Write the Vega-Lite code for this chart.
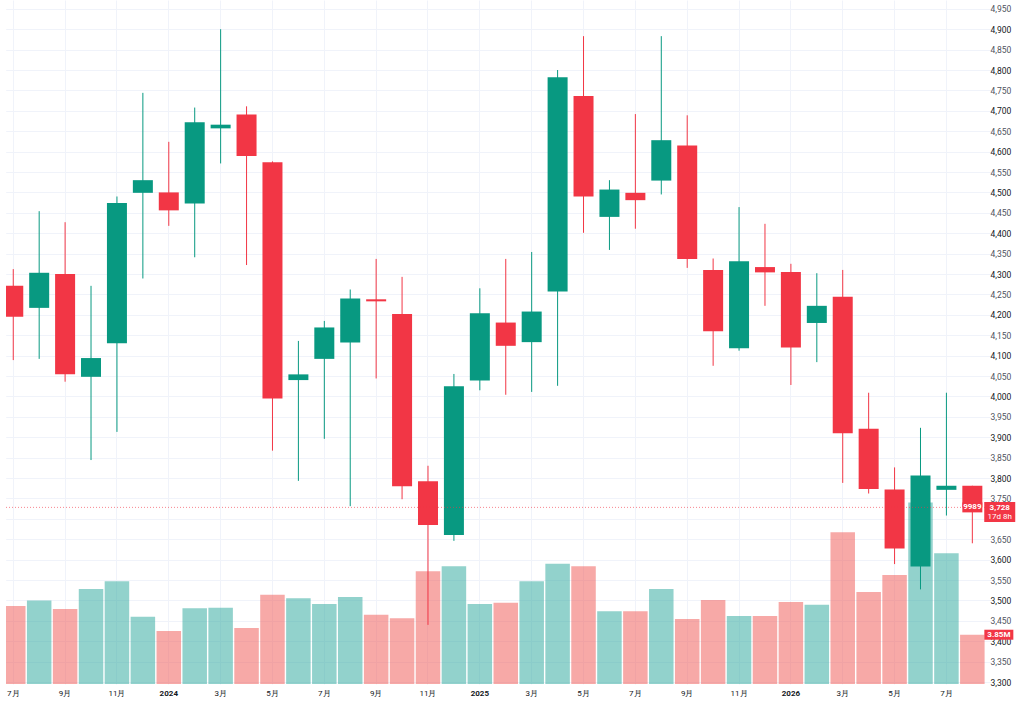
{
  "$schema": "https://vega.github.io/schema/vega-lite/v6.json",
  "width": 979,
  "height": 684,
  "autosize": {"type": "none"},
  "padding": {"left": 6, "top": 0, "right": 39, "bottom": 21},
  "background": "white",
  "config": {"view": {"stroke": null}, "font": "Roboto"},
  "data": {
    "values": [
      {"m": "2023-07", "open": 4271, "high": 4312, "low": 4089, "close": 4195, "volume": 6.09},
      {"m": "2023-08", "open": 4217, "high": 4454, "low": 4092, "close": 4303, "volume": 6.53},
      {"m": "2023-09", "open": 4300, "high": 4427, "low": 4036, "close": 4054, "volume": 5.85},
      {"m": "2023-10", "open": 4048, "high": 4271, "low": 3844, "close": 4094, "volume": 7.42},
      {"m": "2023-11", "open": 4130, "high": 4490, "low": 3913, "close": 4474, "volume": 8.02},
      {"m": "2023-12", "open": 4499, "high": 4744, "low": 4289, "close": 4530, "volume": 5.25},
      {"m": "2024-01", "open": 4500, "high": 4624, "low": 4418, "close": 4456, "volume": 4.14},
      {"m": "2024-02", "open": 4473, "high": 4708, "low": 4341, "close": 4672, "volume": 5.91},
      {"m": "2024-03", "open": 4657, "high": 4900, "low": 4571, "close": 4666, "volume": 5.96},
      {"m": "2024-04", "open": 4691, "high": 4711, "low": 4322, "close": 4589, "volume": 4.37},
      {"m": "2024-05", "open": 4574, "high": 4576, "low": 3867, "close": 3995, "volume": 6.97},
      {"m": "2024-06", "open": 4040, "high": 4136, "low": 3793, "close": 4054, "volume": 6.69},
      {"m": "2024-07", "open": 4092, "high": 4185, "low": 3896, "close": 4169, "volume": 6.25},
      {"m": "2024-08", "open": 4132, "high": 4262, "low": 3731, "close": 4240, "volume": 6.79},
      {"m": "2024-09", "open": 4238, "high": 4337, "low": 4044, "close": 4233, "volume": 5.41},
      {"m": "2024-10", "open": 4202, "high": 4293, "low": 3748, "close": 3780, "volume": 5.13},
      {"m": "2024-11", "open": 3792, "high": 3830, "low": 3440, "close": 3685, "volume": 8.8},
      {"m": "2024-12", "open": 3660, "high": 4055, "low": 3646, "close": 4025, "volume": 9.19},
      {"m": "2025-01", "open": 4039, "high": 4265, "low": 4015, "close": 4204, "volume": 6.25},
      {"m": "2025-02", "open": 4181, "high": 4337, "low": 4004, "close": 4124, "volume": 6.35},
      {"m": "2025-03", "open": 4133, "high": 4354, "low": 4011, "close": 4208, "volume": 8.02},
      {"m": "2025-04", "open": 4257, "high": 4800, "low": 4026, "close": 4782, "volume": 9.39},
      {"m": "2025-05", "open": 4736, "high": 4883, "low": 4401, "close": 4490, "volume": 9.19},
      {"m": "2025-06", "open": 4440, "high": 4530, "low": 4359, "close": 4507, "volume": 5.68},
      {"m": "2025-07", "open": 4499, "high": 4692, "low": 4411, "close": 4481, "volume": 5.68},
      {"m": "2025-08", "open": 4529, "high": 4883, "low": 4495, "close": 4628, "volume": 7.42},
      {"m": "2025-09", "open": 4615, "high": 4689, "low": 4315, "close": 4337, "volume": 5.07},
      {"m": "2025-10", "open": 4310, "high": 4338, "low": 4075, "close": 4160, "volume": 6.56},
      {"m": "2025-11", "open": 4118, "high": 4464, "low": 4112, "close": 4331, "volume": 5.31},
      {"m": "2025-12", "open": 4317, "high": 4423, "low": 4222, "close": 4304, "volume": 5.31},
      {"m": "2026-01", "open": 4305, "high": 4325, "low": 4028, "close": 4120, "volume": 6.4},
      {"m": "2026-02", "open": 4180, "high": 4302, "low": 4084, "close": 4222, "volume": 6.19},
      {"m": "2026-03", "open": 4244, "high": 4310, "low": 3788, "close": 3910, "volume": 11.85},
      {"m": "2026-04", "open": 3921, "high": 4009, "low": 3762, "close": 3773, "volume": 7.18},
      {"m": "2026-05", "open": 3772, "high": 3826, "low": 3589, "close": 3627, "volume": 8.51},
      {"m": "2026-06", "open": 3583, "high": 3923, "low": 3527, "close": 3806, "volume": 14.19},
      {"m": "2026-07", "open": 3771, "high": 4009, "low": 3708, "close": 3781, "volume": 10.21},
      {"m": "2026-08", "open": 3781, "high": 3781, "low": 3640, "close": 3728, "volume": 3.85}
    ]
  },
  "resolve": {"scale": {"y": "independent"}},
  "layer": [
    {
      "layer": [
        {
          "mark": {"type": "bar", "size": 24.5, "opacity": 0.5, "clip": true},
          "encoding": {
            "x": {
              "field": "m",
              "type": "ordinal",
              "title": null,
              "scale": {"type": "band", "range": [-5.7, 979.3], "paddingInner": 0, "paddingOuter": 0},
              "axis": {
                "values": ["2023-07", "2023-09", "2023-11", "2024-01", "2024-03", "2024-05", "2024-07", "2024-09", "2024-11", "2025-01", "2025-03", "2025-05", "2025-07", "2025-09", "2025-11", "2026-01", "2026-03", "2026-05", "2026-07"],
                "labelExpr": "substring(datum.value, 5, 7) === '01' ? substring(datum.value, 0, 4) : toNumber(substring(datum.value, 5, 7)) + '月'",
                "labelFontWeight": {"condition": {"test": "substring(datum.value, 5, 7) === '01'", "value": "bold"}, "value": "normal"},
                "labelAngle": 0,
                "labelFontSize": 8,
                "labelColor": "#131722",
                "labelPadding": 5,
                "labelOverlap": false,
                "ticks": false,
                "domain": false,
                "grid": true,
                "gridColor": "#f0f3fa",
                "bandPosition": 0.5
              }
            },
            "y": {"field": "volume", "type": "quantitative", "title": null, "scale": {"domain": [0, 53.44], "nice": false}, "axis": null},
            "color": {"condition": {"test": "datum.close < datum.open", "value": "#ef5350"}, "value": "#26a69a"}
          }
        },
        {
          "data": {"values": [{"m": "2026-08", "volume": 3.85, "label": "3.85M"}]},
          "mark": {"type": "point", "shape": "M-1,-0.345H1V0.345H-1Z", "size": 841, "filled": true, "opacity": 1, "strokeWidth": 0, "color": "#f23645", "xOffset": 26.5},
          "encoding": {
            "x": {"field": "m", "type": "ordinal", "title": null},
            "y": {"field": "volume", "type": "quantitative", "title": null}
          }
        },
        {
          "data": {"values": [{"m": "2026-08", "volume": 3.85, "label": "3.85M"}]},
          "mark": {"type": "text", "color": "white", "fontSize": 8, "fontWeight": "bold", "xOffset": 26.5, "baseline": "middle"},
          "encoding": {
            "x": {"field": "m", "type": "ordinal", "title": null},
            "y": {"field": "volume", "type": "quantitative", "title": null},
            "text": {"field": "label"}
          }
        }
      ]
    },
    {
      "layer": [
        {
          "mark": {"type": "rule", "strokeWidth": 1},
          "encoding": {
            "x": {"field": "m", "type": "ordinal", "title": null, "bandPosition": 0.5},
            "y": {
              "field": "low",
              "type": "quantitative",
              "title": null,
              "scale": {"domain": [3295.1, 4971.6], "nice": false, "zero": false},
              "axis": {
                "values": [3300, 3350, 3400, 3450, 3500, 3550, 3600, 3650, 3700, 3750, 3800, 3850, 3900, 3950, 4000, 4050, 4100, 4150, 4200, 4250, 4300, 4350, 4400, 4450, 4500, 4550, 4600, 4650, 4700, 4750, 4800, 4850, 4900, 4950],
                "tickCount": 34,
                "labelExpr": "datum.value === 3700 ? '' : format(datum.value, ',')",
                "labelFontSize": 8.5,
                "labelColor": {"condition": {"test": "datum.value % 100 === 0", "value": "#131722"}, "value": "#50535e"},
                "labelPadding": 5,
                "labelOverlap": false,
                "labelBound": false,
                "ticks": false,
                "domain": false,
                "grid": true,
                "gridColor": "#f0f3fa"
              }
            },
            "y2": {"field": "high"},
            "color": {"condition": {"test": "datum.close < datum.open", "value": "#f23645"}, "value": "#089981"}
          }
        },
        {
          "mark": {"type": "bar", "size": 20, "clip": true},
          "encoding": {
            "x": {"field": "m", "type": "ordinal", "title": null},
            "y": {"field": "open", "type": "quantitative", "title": null},
            "y2": {"field": "close"},
            "color": {"condition": {"test": "datum.close < datum.open", "value": "#f23645"}, "value": "#089981"}
          }
        },
        {
          "data": {"values": [{"last": 3728}]},
          "mark": {"type": "rule", "strokeDash": [1, 2], "color": "#f23645", "opacity": 0.6, "strokeWidth": 1},
          "encoding": {
            "y": {"field": "last", "type": "quantitative", "title": null}
          }
        },
        {
          "data": {"values": [{"m": "2026-08", "last": 3728}]},
          "mark": {"type": "point", "shape": "M-1,-0.5H1V0.5H-1Z", "size": 400, "filled": true, "opacity": 1, "strokeWidth": 0, "color": "#f23645"},
          "encoding": {
            "x": {"field": "m", "type": "ordinal", "title": null},
            "y": {"field": "last", "type": "quantitative", "title": null}
          }
        },
        {
          "data": {"values": [{"m": "2026-08", "last": 3728, "label": "9989"}]},
          "mark": {"type": "text", "color": "white", "fontSize": 8, "fontWeight": "bold", "baseline": "middle"},
          "encoding": {
            "x": {"field": "m", "type": "ordinal", "title": null},
            "y": {"field": "last", "type": "quantitative", "title": null},
            "text": {"field": "label"}
          }
        },
        {
          "data": {"values": [{"m": "2026-08", "last": 3728}]},
          "mark": {"type": "point", "shape": "M-1,-0.645H1V0.645H-1Z", "size": 961, "filled": true, "opacity": 1, "strokeWidth": 0, "color": "#f23645", "xOffset": 27.4, "yOffset": 4.6},
          "encoding": {
            "x": {"field": "m", "type": "ordinal", "title": null},
            "y": {"field": "last", "type": "quantitative", "title": null}
          }
        },
        {
          "data": {"values": [{"m": "2026-08", "last": 3728, "label": "3,728"}]},
          "mark": {"type": "text", "color": "white", "fontSize": 8, "fontWeight": "bold", "baseline": "middle", "xOffset": 27.4, "yOffset": 0.6},
          "encoding": {
            "x": {"field": "m", "type": "ordinal", "title": null},
            "y": {"field": "last", "type": "quantitative", "title": null},
            "text": {"field": "label"}
          }
        },
        {
          "data": {"values": [{"m": "2026-08", "last": 3728, "label": "17d 8h"}]},
          "mark": {"type": "text", "color": "white", "fontSize": 8, "baseline": "middle", "xOffset": 27.4, "yOffset": 9.4},
          "encoding": {
            "x": {"field": "m", "type": "ordinal", "title": null},
            "y": {"field": "last", "type": "quantitative", "title": null},
            "text": {"field": "label"}
          }
        }
      ]
    }
  ]
}
